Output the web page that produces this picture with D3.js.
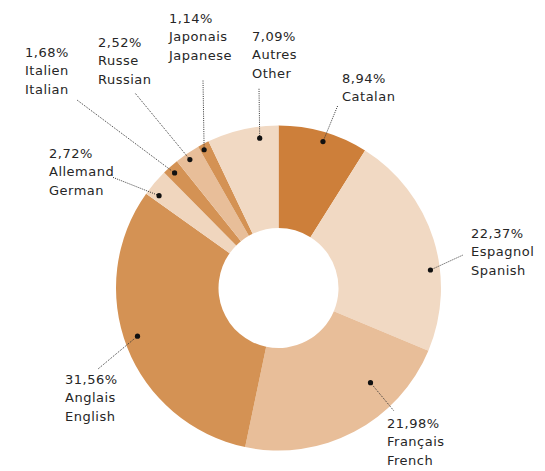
<!DOCTYPE html>
<html>
<head>
<meta charset="utf-8">
<script src="https://cdn.jsdelivr.net/npm/d3@7"></script>
<style>
  html, body { margin: 0; padding: 0; background: #fff; }
  svg { display: block; }
  text { font-family: "DejaVu Sans", sans-serif; font-size: 13px; letter-spacing: 0.5px; fill: #262626; }
</style>
</head>
<body>
<svg id="chart" width="545" height="471"></svg>
<script>
// Language shares (%), clockwise from 12 o'clock
const langFr = ["Catalan", "Espagnol", "Français", "Anglais", "Allemand", "Italien", "Russe", "Japonais", "Autres"];
const langEn = ["", "Spanish", "French", "English", "German", "Italian", "Russian", "Japanese", "Other"];
const shares = [8.94, 22.37, 21.98, 31.56, 2.72, 1.68, 2.52, 1.14, 7.09];
const shareLabels = ["8,94%", "22,37%", "21,98%", "31,56%", "2,72%", "1,68%", "2,52%", "1,14%", "7,09%"];

const sliceColors = ["#cd7f3a", "#f1d9c3", "#e8be99", "#d49254", "#f0d6be", "#d49254", "#e8be99", "#d49254", "#f1d9c3"];

// Callout layout: dot placement inside the slice (fraction of the sweep, radius),
// leader-line outer end, and label block anchor (first baseline)
const dotFrac   = [0.525, 0.634, 0.292, 0.522, 0.23, 0.44, 0.45, 0.33, 0.72];
const dotRadius = [153, 153, 132, 149, 151, 155, 156, 157, 151];
const leaderEnd = [[338, 105], [463, 255], [394, 411], [98, 369], [112, 177], [77, 100], [135, 93], [203, 80], [259, 88]];
const labelPos  = [[342, 83], [471, 238], [387, 428], [65, 384], [49, 158], [25, 57], [98, 47], [169, 23], [252, 41]];

const cx = 278.5, cy = 288, outerR = 162.5, innerR = 60, lineH = 18.4;

const svg = d3.select("#chart");
const g = svg.append("g").attr("transform", `translate(${cx},${cy})`);

const pie = d3.pie().sort(null).value(d => d);
const arcs = pie(shares);
const arc = d3.arc().innerRadius(innerR).outerRadius(outerR);

g.selectAll("path.slice")
  .data(arcs)
  .join("path")
  .attr("class", "slice")
  .attr("d", arc)
  .attr("fill", (d, i) => sliceColors[i]);

// Callout dots placed inside each slice
const dotXY = arcs.map((a, i) => {
  const ang = a.startAngle + dotFrac[i] * (a.endAngle - a.startAngle);
  return [cx + dotRadius[i] * Math.sin(ang), cy - dotRadius[i] * Math.cos(ang)];
});

svg.selectAll("line.leader")
  .data(arcs)
  .join("line")
  .attr("class", "leader")
  .attr("x1", (d, i) => dotXY[i][0])
  .attr("y1", (d, i) => dotXY[i][1])
  .attr("x2", (d, i) => leaderEnd[i][0])
  .attr("y2", (d, i) => leaderEnd[i][1])
  .attr("stroke", "#333")
  .attr("stroke-width", 1)
  .attr("stroke-dasharray", "1,1.2");

svg.selectAll("circle.dot")
  .data(arcs)
  .join("circle")
  .attr("class", "dot")
  .attr("cx", (d, i) => dotXY[i][0])
  .attr("cy", (d, i) => dotXY[i][1])
  .attr("r", 2.6)
  .attr("fill", "#111");

// Label blocks: share, French name, English name
const labels = svg.selectAll("text.lbl")
  .data(arcs)
  .join("text")
  .attr("class", "lbl")
  .attr("x", (d, i) => labelPos[i][0])
  .attr("y", (d, i) => labelPos[i][1]);

labels.each(function(d, i) {
  const t = d3.select(this);
  const lines = [shareLabels[i], langFr[i]];
  if (langEn[i]) lines.push(langEn[i]);
  lines.forEach((s, k) => {
    t.append("tspan")
      .attr("x", labelPos[i][0])
      .attr("dy", k === 0 ? 0 : lineH)
      .text(s);
  });
});
</script>
</body>
</html>
